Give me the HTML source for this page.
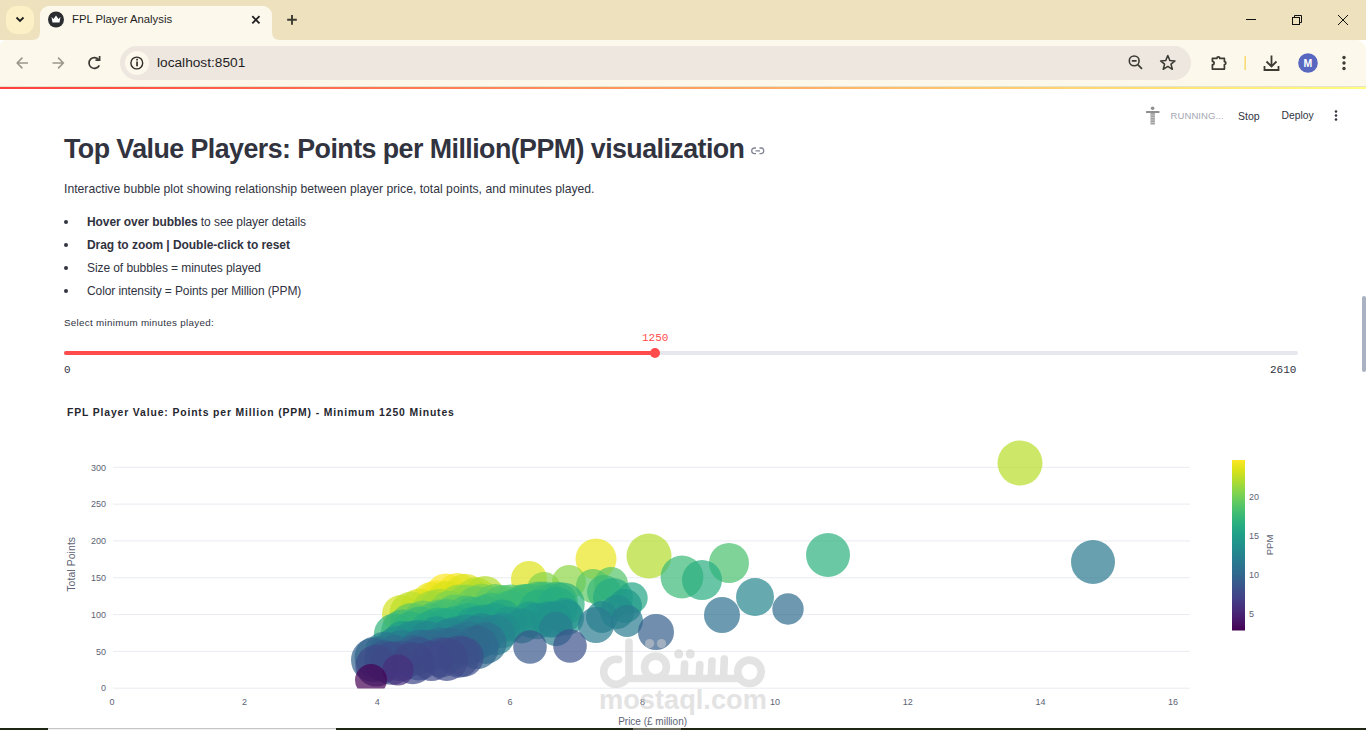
<!DOCTYPE html>
<html><head><meta charset="utf-8">
<style>
*{box-sizing:border-box;margin:0;padding:0}
html,body{width:1366px;height:730px;overflow:hidden;background:#fff;font-family:"Liberation Sans",sans-serif;}
.abs{position:absolute}
#strip{left:0;top:0;width:1366px;height:40px;background:#ede2bd}
#toolbar{left:0;top:40px;width:1366px;height:46px;background:#fdf8ec;border-top-right-radius:10px;border-top-left-radius:6px}
#tab{left:40px;top:6px;width:232px;height:40px;background:#fdf8ec;border-radius:9px 9px 0 0}
#dd{left:6px;top:6px;width:28px;height:28px;background:#fcf0c6;border-radius:11px}
#omni{left:120px;top:46px;width:1071px;height:34px;background:#ede7df;border-radius:17px}
#infobg{left:125px;top:51px;width:24px;height:24px;border-radius:12px;background:#fdf8ec}
.t{position:absolute;white-space:pre;line-height:1}
#deco{left:0;top:87px;width:1366px;height:2px;background:linear-gradient(90deg,#ff4040 0%,#fffd80 100%)}
#sep{left:0;top:86px;width:1366px;height:1px;background:#e6e3cc}
</style></head><body>
<div id="strip" class="abs"></div>
<div id="toolbar" class="abs"></div>
<div id="dd" class="abs"></div>
<div id="tab" class="abs"></div>
<!-- tab feet -->
<svg class="abs" style="left:0;top:0" width="1366" height="90">
  <path d="M32 40 Q40 40 40 32 L40 40 Z" fill="#fdf8ec"/>
  <path d="M280 40 Q272 40 272 32 L272 40 Z" fill="#fdf8ec"/>
  <!-- dropdown chevron -->
  <path d="M16.5 17.5 L20 21 L23.5 17.5" fill="none" stroke="#1f1f1f" stroke-width="1.8"/>
  <!-- favicon -->
  <circle cx="56" cy="19.5" r="8" fill="#2b2d31"/>
  <path d="M51.5 17 L53.5 19 L56 15.5 L58.5 19 L60.5 17 L59.5 22.5 L52.5 22.5 Z" fill="#fff"/>
  <!-- tab close -->
  <path d="M252.3 16.2 L259.5 23.4 M259.5 16.2 L252.3 23.4" stroke="#1f1f1f" stroke-width="1.8"/>
  <!-- new tab plus -->
  <path d="M292 15 V24.7 M287.2 19.8 H296.8" stroke="#3a3a30" stroke-width="1.9"/>
  <!-- window controls -->
  <path d="M1246 19.5 H1256" stroke="#111" stroke-width="1"/>
  <rect x="1292.5" y="17.5" width="7" height="7" fill="none" stroke="#111" stroke-width="1"/>
  <path d="M1294.5 17.5 V15.5 H1301.5 V22.5 H1299.5" fill="none" stroke="#111" stroke-width="1"/>
  <path d="M1338 15 L1348 25 M1348 15 L1338 25" stroke="#111" stroke-width="1"/>
  <!-- back / forward -->
  <path d="M28 63 H17.2 M22.4 57.6 L17.2 63 L22.4 68.4" fill="none" stroke="#9a978c" stroke-width="1.6"/>
  <path d="M52.5 63 H63.3 M58.1 57.6 L63.3 63 L58.1 68.4" fill="none" stroke="#9a978c" stroke-width="1.6"/>
  <!-- reload -->
  <path d="M98.8 59.8 A5.4 5.4 0 1 0 99.3 65.3" fill="none" stroke="#3b3a33" stroke-width="1.7"/>
  <path d="M95.5 60.2 H99.6 V56" fill="none" stroke="#3b3a33" stroke-width="1.7"/>
</svg>
<div id="omni" class="abs"></div>
<div id="infobg" class="abs"></div>
<svg class="abs" style="left:0;top:0" width="1366" height="90">
  <circle cx="136.8" cy="63" r="5.9" fill="none" stroke="#2f2e29" stroke-width="1.4"/>
  <rect x="136.2" y="61.5" width="1.7" height="4.8" fill="#2f2e29"/>
  <rect x="136.2" y="58.8" width="1.7" height="1.7" fill="#2f2e29"/>
  <!-- zoom out -->
  <circle cx="1134.2" cy="60.9" r="4.9" fill="none" stroke="#3b3a33" stroke-width="1.6"/>
  <path d="M1131.8 60.9 H1136.6 M1137.8 64.6 L1142 68.8" stroke="#3b3a33" stroke-width="1.7"/>
  <!-- star -->
  <path d="M1167.8 55.5 L1169.9 60.6 L1175 60.9 L1171 64.2 L1172.4 69.3 L1167.8 66.4 L1163.2 69.3 L1164.6 64.2 L1160.6 60.9 L1165.7 60.6 Z" fill="none" stroke="#3b3a33" stroke-width="1.5" stroke-linejoin="round"/>
  <!-- extensions puzzle -->
  <path d="M1212.4 58.4 H1216.9 A1.45 1.45 0 0 1 1219.8 58.4 H1224.4 V61.6 A1.45 1.45 0 0 1 1224.4 64.5 V69.1 H1212.4 V64.7 A1.7 1.7 0 0 0 1212.4 61.3 Z" fill="none" stroke="#3b3a33" stroke-width="1.7" stroke-linejoin="round"/>
  <rect x="1244.5" y="56" width="1.3" height="14" fill="#f5d55a"/>
  <!-- download -->
  <path d="M1271.5 55.5 V66 M1266.5 61.5 L1271.5 66.5 L1276.5 61.5 M1264.5 66 V70 H1278.5 V66" fill="none" stroke="#3b3a33" stroke-width="1.8"/>
  <circle cx="1308" cy="63" r="9.8" fill="#5867c0"/>
  <circle cx="1344" cy="57.5" r="1.7" fill="#3b3a33"/>
  <circle cx="1344" cy="63" r="1.7" fill="#3b3a33"/>
  <circle cx="1344" cy="68.5" r="1.7" fill="#3b3a33"/>
</svg>
<div class="t" style="left:72px;top:13.7px;font-size:11.3px;color:#1f1f1f">FPL Player Analysis</div>
<div class="t" style="left:157px;top:56.3px;font-size:13.7px;color:#1f1f1f">localhost:8501</div>
<div class="t" style="left:1303.6px;top:57.9px;font-size:10.5px;font-weight:bold;color:#fff">M</div>
<div id="sep" class="abs"></div>
<div id="deco" class="abs"></div>

<!-- streamlit header -->
<svg class="abs" style="left:1140px;top:104px" width="26" height="24">
  <circle cx="12.6" cy="4.2" r="1.8" fill="#8f8f8f"/>
  <path d="M6 8.3 L7 8 H18.5 L19.5 8.3" fill="none" stroke="#8f8f8f" stroke-width="1.8"/>
  <rect x="10.5" y="9" width="4.4" height="11.5" fill="#a0a0a0"/>
  <path d="M10.5 11 H15 M10.5 13.5 H15 M10.5 16 H15 M10.5 18.5 H15" stroke="#d0d0d0" stroke-width="0.8"/>
</svg>
<div class="t" style="left:1170.5px;top:110.8px;font-size:9.5px;color:#a3a8b4;letter-spacing:0.1px">RUNNING...</div>
<div class="t" style="left:1238px;top:110.5px;font-size:10.5px;color:#31333f">Stop</div>
<div class="t" style="left:1281.5px;top:110.5px;font-size:10.3px;color:#31333f">Deploy</div>
<svg class="abs" style="left:1330px;top:105px" width="12" height="20">
  <circle cx="6" cy="6.5" r="1.3" fill="#31333f"/><circle cx="6" cy="10.5" r="1.3" fill="#31333f"/><circle cx="6" cy="14.5" r="1.3" fill="#31333f"/>
</svg>
<!-- title -->
<div class="t" style="left:64px;top:136.3px;font-size:26.8px;font-weight:bold;color:#31333f;letter-spacing:-0.55px">Top Value Players: Points per Million(PPM) visualization</div>
<svg class="abs" style="left:750px;top:145px" width="16" height="12">
  <path d="M6 3 H4.5 A2.8 2.8 0 0 0 4.5 8.6 H6 M9.5 3 H11 A2.8 2.8 0 0 1 11 8.6 H9.5 M5.5 5.8 H10" fill="none" stroke="#808495" stroke-width="1.3"/>
</svg>
<div class="t" style="left:64px;top:183px;font-size:12.2px;color:#31333f">Interactive bubble plot showing relationship between player price, total points, and minutes played.</div>
<div class="abs" style="left:64px;top:220px;width:4px;height:4px;border-radius:2px;background:#31333f"></div>
<div class="abs" style="left:64px;top:243px;width:4px;height:4px;border-radius:2px;background:#31333f"></div>
<div class="abs" style="left:64px;top:266px;width:4px;height:4px;border-radius:2px;background:#31333f"></div>
<div class="abs" style="left:64px;top:289px;width:4px;height:4px;border-radius:2px;background:#31333f"></div>
<div class="t" style="left:87px;top:216px;font-size:12px;color:#31333f;letter-spacing:-0.08px"><b>Hover over bubbles </b>to see player details</div>
<div class="t" style="left:87px;top:239px;font-size:12px;color:#31333f;font-weight:bold;letter-spacing:-0.05px">Drag to zoom | Double-click to reset</div>
<div class="t" style="left:87px;top:262px;font-size:12px;color:#31333f;letter-spacing:-0.08px">Size of bubbles = minutes played</div>
<div class="t" style="left:87px;top:285px;font-size:12px;color:#31333f;letter-spacing:-0.1px">Color intensity = Points per Million (PPM)</div>
<div class="t" style="left:64px;top:318px;font-size:9.8px;color:#31333f;letter-spacing:0.3px">Select minimum minutes played:</div>
<!-- slider -->
<div class="abs" style="left:64px;top:351px;width:1234px;height:4px;border-radius:2px;background:#e6e8ee"></div>
<div class="abs" style="left:64px;top:351px;width:591px;height:4px;border-radius:2px;background:#ff4b4b"></div>
<div class="abs" style="left:650px;top:348px;width:10px;height:10px;border-radius:5px;background:#ff4b4b"></div>
<div class="t" style="left:642px;top:333px;font-size:11px;font-family:'Liberation Mono',monospace;color:#ff4b4b">1250</div>
<div class="t" style="left:64px;top:365px;font-size:11px;font-family:'Liberation Mono',monospace;color:#31333f">0</div>
<div class="t" style="left:1270px;top:365px;font-size:11px;font-family:'Liberation Mono',monospace;color:#31333f">2610</div>
<div class="t" style="left:67px;top:408px;font-size:10.4px;font-weight:bold;color:#262730;letter-spacing:0.86px">FPL Player Value: Points per Million (PPM) - Minimum 1250 Minutes</div>
<!--CHART--><svg class="abs" style="left:0;top:0" width="1366" height="730">
<defs><clipPath id="plotclip"><rect x="112" y="440" width="1078" height="248.5"/></clipPath>
<linearGradient id="cbg" x1="0" y1="0" x2="0" y2="1"><stop offset="0.0000" stop-color="#fde725"/><stop offset="0.0625" stop-color="#d8e219"/><stop offset="0.1250" stop-color="#addc30"/><stop offset="0.1875" stop-color="#84d44b"/><stop offset="0.2500" stop-color="#5ec962"/><stop offset="0.3125" stop-color="#3fbc73"/><stop offset="0.3750" stop-color="#28ae80"/><stop offset="0.4375" stop-color="#1fa088"/><stop offset="0.5000" stop-color="#21918c"/><stop offset="0.5625" stop-color="#26828e"/><stop offset="0.6250" stop-color="#2c728e"/><stop offset="0.6875" stop-color="#33638d"/><stop offset="0.7500" stop-color="#3b528b"/><stop offset="0.8125" stop-color="#424086"/><stop offset="0.8750" stop-color="#472d7b"/><stop offset="0.9375" stop-color="#48186a"/><stop offset="1.0000" stop-color="#440154"/></linearGradient></defs>
<rect x="113" y="687.70" width="1077" height="1" fill="#e8ebf1"/><rect x="113" y="650.88" width="1077" height="1" fill="#e8ebf1"/><rect x="113" y="614.07" width="1077" height="1" fill="#e8ebf1"/><rect x="113" y="577.25" width="1077" height="1" fill="#e8ebf1"/><rect x="113" y="540.43" width="1077" height="1" fill="#e8ebf1"/><rect x="113" y="503.62" width="1077" height="1" fill="#e8ebf1"/><rect x="113" y="466.80" width="1077" height="1" fill="#e8ebf1"/>
<g clip-path="url(#plotclip)" fill-opacity="0.7">
<circle cx="445.8" cy="593.6" r="20.1" fill="rgb(253,231,37)"/>
<circle cx="437.3" cy="600.0" r="20.0" fill="rgb(245,230,35)"/>
<circle cx="457.4" cy="594.7" r="21.6" fill="rgb(244,230,34)"/>
<circle cx="431.8" cy="602.7" r="20.7" fill="rgb(236,229,32)"/>
<circle cx="596" cy="559" r="20.5" fill="rgb(235,229,31)"/>
<circle cx="529" cy="579" r="18" fill="rgb(223,227,27)"/>
<circle cx="465.3" cy="595.9" r="22.2" fill="rgb(221,227,27)"/>
<circle cx="419.7" cy="608.3" r="19.9" fill="rgb(217,226,25)"/>
<circle cx="446.4" cy="601.5" r="20.4" fill="rgb(216,226,25)"/>
<circle cx="401" cy="614" r="19" fill="rgb(209,225,29)"/>
<circle cx="411.4" cy="613.5" r="21.9" fill="rgb(189,222,40)"/>
<circle cx="1020" cy="463" r="22.5" fill="rgb(184,222,42)"/>
<circle cx="476.2" cy="598.0" r="20.7" fill="rgb(183,221,42)"/>
<circle cx="484.9" cy="596.1" r="20.0" fill="rgb(181,221,43)"/>
<circle cx="649" cy="556" r="22.5" fill="rgb(179,221,45)"/>
<circle cx="431.9" cy="611.0" r="20.4" fill="rgb(166,219,53)"/>
<circle cx="439.4" cy="609.8" r="21.0" fill="rgb(161,218,56)"/>
<circle cx="459.4" cy="606.7" r="22.2" fill="rgb(147,215,65)"/>
<circle cx="569" cy="582" r="17" fill="rgb(141,214,69)"/>
<circle cx="467.0" cy="606.3" r="21.7" fill="rgb(137,213,72)"/>
<circle cx="544" cy="589" r="17" fill="rgb(134,212,74)"/>
<circle cx="449.6" cy="611.0" r="20.3" fill="rgb(131,212,75)"/>
<circle cx="481.6" cy="603.9" r="20.3" fill="rgb(130,211,76)"/>
<circle cx="476.9" cy="608.6" r="22.5" fill="rgb(105,204,91)"/>
<circle cx="423.3" cy="620.9" r="20.5" fill="rgb(100,203,94)"/>
<circle cx="495.1" cy="606.0" r="21.9" fill="rgb(96,202,97)"/>
<circle cx="593" cy="586" r="17" fill="rgb(91,200,99)"/>
<circle cx="411.5" cy="624.8" r="21.8" fill="rgb(90,199,100)"/>
<circle cx="455.2" cy="615.6" r="21.2" fill="rgb(89,199,100)"/>
<circle cx="611" cy="584" r="17" fill="rgb(84,197,104)"/>
<circle cx="438.8" cy="620.2" r="20.6" fill="rgb(82,196,104)"/>
<circle cx="511.6" cy="605.2" r="20.7" fill="rgb(82,196,105)"/>
<circle cx="503.1" cy="607.0" r="22.0" fill="rgb(81,196,105)"/>
<circle cx="521.9" cy="604.0" r="19.6" fill="rgb(77,194,107)"/>
<circle cx="528.8" cy="603.3" r="19.6" fill="rgb(73,192,109)"/>
<circle cx="729" cy="563" r="20" fill="rgb(72,192,110)"/>
<circle cx="432.4" cy="623.4" r="20.3" fill="rgb(70,191,111)"/>
<circle cx="467.2" cy="616.7" r="21.1" fill="rgb(68,190,112)"/>
<circle cx="538.6" cy="602.6" r="21.1" fill="rgb(67,190,113)"/>
<circle cx="446.7" cy="621.4" r="22.4" fill="rgb(65,189,114)"/>
<circle cx="544.6" cy="602.2" r="20.7" fill="rgb(63,188,115)"/>
<circle cx="526.6" cy="605.8" r="21.9" fill="rgb(63,188,115)"/>
<circle cx="604" cy="592" r="17" fill="rgb(58,185,118)"/>
<circle cx="403.1" cy="631.4" r="22.0" fill="rgb(58,185,118)"/>
<circle cx="682" cy="577" r="21.4" fill="rgb(58,185,118)"/>
<circle cx="491.5" cy="614.2" r="21.5" fill="rgb(57,185,118)"/>
<circle cx="517.9" cy="609.1" r="20.9" fill="rgb(57,185,118)"/>
<circle cx="419.8" cy="628.3" r="21.8" fill="rgb(57,184,118)"/>
<circle cx="509.6" cy="610.9" r="20.3" fill="rgb(57,184,119)"/>
<circle cx="472.9" cy="618.2" r="21.3" fill="rgb(56,184,119)"/>
<circle cx="484.6" cy="616.3" r="21.0" fill="rgb(54,183,120)"/>
<circle cx="546.9" cy="604.4" r="20.1" fill="rgb(54,183,120)"/>
<circle cx="556.6" cy="603.2" r="21.4" fill="rgb(52,181,121)"/>
<circle cx="394.8" cy="634.5" r="21.0" fill="rgb(50,180,123)"/>
<circle cx="410.9" cy="631.7" r="20.2" fill="rgb(48,179,123)"/>
<circle cx="562.9" cy="604.2" r="21.8" fill="rgb(44,177,126)"/>
<circle cx="828" cy="555" r="22" fill="rgb(44,176,126)"/>
<circle cx="538.6" cy="609.3" r="19.6" fill="rgb(42,175,127)"/>
<circle cx="702" cy="580" r="20" fill="rgb(40,174,128)"/>
<circle cx="437.7" cy="628.8" r="21.2" fill="rgb(39,173,129)"/>
<circle cx="455.4" cy="625.6" r="19.7" fill="rgb(39,173,129)"/>
<circle cx="468.5" cy="623.4" r="20.5" fill="rgb(39,172,129)"/>
<circle cx="557.0" cy="607.5" r="20.5" fill="rgb(39,172,129)"/>
<circle cx="429.6" cy="631.0" r="19.8" fill="rgb(38,171,130)"/>
<circle cx="613" cy="598" r="20" fill="rgb(38,171,130)"/>
<circle cx="446.0" cy="628.8" r="20.8" fill="rgb(37,169,131)"/>
<circle cx="502.0" cy="619.5" r="19.9" fill="rgb(36,167,132)"/>
<circle cx="632" cy="598" r="15.7" fill="rgb(34,165,133)"/>
<circle cx="482.7" cy="625.5" r="20.9" fill="rgb(31,161,136)"/>
<circle cx="495.0" cy="623.8" r="20.8" fill="rgb(31,160,136)"/>
<circle cx="474.4" cy="628.0" r="21.4" fill="rgb(31,158,137)"/>
<circle cx="529.4" cy="619.5" r="18.1" fill="rgb(31,156,137)"/>
<circle cx="402.8" cy="640.6" r="19.6" fill="rgb(32,155,137)"/>
<circle cx="565" cy="615" r="17" fill="rgb(32,153,138)"/>
<circle cx="509.3" cy="624.1" r="17.4" fill="rgb(32,153,138)"/>
<circle cx="625" cy="606" r="17" fill="rgb(32,152,138)"/>
<circle cx="436.9" cy="636.7" r="20.4" fill="rgb(32,150,139)"/>
<circle cx="536.7" cy="621.1" r="18.2" fill="rgb(32,150,139)"/>
<circle cx="549.3" cy="619.4" r="18.2" fill="rgb(32,149,139)"/>
<circle cx="418.9" cy="640.4" r="20.7" fill="rgb(33,147,139)"/>
<circle cx="554.4" cy="619.5" r="18.1" fill="rgb(33,147,139)"/>
<circle cx="566.5" cy="617.7" r="17.6" fill="rgb(33,147,140)"/>
<circle cx="455.8" cy="635.9" r="19.5" fill="rgb(33,144,140)"/>
<circle cx="521.7" cy="625.9" r="17.5" fill="rgb(33,144,140)"/>
<circle cx="413.0" cy="642.7" r="22.0" fill="rgb(34,143,140)"/>
<circle cx="617" cy="612" r="17" fill="rgb(34,143,140)"/>
<circle cx="396.4" cy="645.9" r="19.6" fill="rgb(34,141,141)"/>
<circle cx="502.4" cy="630.4" r="17.6" fill="rgb(35,140,141)"/>
<circle cx="465.9" cy="636.0" r="21.4" fill="rgb(35,139,141)"/>
<circle cx="602" cy="617" r="16" fill="rgb(36,137,141)"/>
<circle cx="428.2" cy="642.7" r="21.7" fill="rgb(36,136,141)"/>
<circle cx="481.6" cy="635.1" r="21.8" fill="rgb(36,136,141)"/>
<circle cx="755" cy="597" r="19" fill="rgb(37,134,142)"/>
<circle cx="449.9" cy="641.0" r="22.4" fill="rgb(37,132,142)"/>
<circle cx="495.0" cy="635.1" r="20.3" fill="rgb(38,131,142)"/>
<circle cx="476.8" cy="638.0" r="21.9" fill="rgb(38,129,142)"/>
<circle cx="385.1" cy="651.5" r="20.1" fill="rgb(39,126,142)"/>
<circle cx="556" cy="629" r="17" fill="rgb(40,125,142)"/>
<circle cx="401.5" cy="649.8" r="19.7" fill="rgb(40,124,142)"/>
<circle cx="388" cy="652" r="19" fill="rgb(41,123,142)"/>
<circle cx="596" cy="625" r="18" fill="rgb(41,122,142)"/>
<circle cx="627" cy="621" r="16" fill="rgb(41,122,142)"/>
<circle cx="1093" cy="562" r="22" fill="rgb(42,120,142)"/>
<circle cx="468.3" cy="643.2" r="21.6" fill="rgb(43,118,142)"/>
<circle cx="459.1" cy="644.9" r="20.3" fill="rgb(43,116,142)"/>
<circle cx="440.4" cy="647.7" r="20.3" fill="rgb(44,114,142)"/>
<circle cx="485.7" cy="643.0" r="20.9" fill="rgb(45,112,142)"/>
<circle cx="722" cy="615" r="18" fill="rgb(45,111,142)"/>
<circle cx="375" cy="657" r="20.5" fill="rgb(46,110,142)"/>
<circle cx="420.8" cy="651.8" r="22.2" fill="rgb(46,109,142)"/>
<circle cx="395.5" cy="654.8" r="19.8" fill="rgb(46,109,142)"/>
<circle cx="429.7" cy="650.9" r="21.2" fill="rgb(47,108,142)"/>
<circle cx="788" cy="609" r="15.7" fill="rgb(47,108,142)"/>
<circle cx="450.2" cy="649.4" r="21.7" fill="rgb(48,106,141)"/>
<circle cx="476.9" cy="647.3" r="21.8" fill="rgb(49,103,141)"/>
<circle cx="414.5" cy="655.4" r="20.3" fill="rgb(51,100,141)"/>
<circle cx="373" cy="660" r="22" fill="rgb(51,99,141)"/>
<circle cx="656" cy="632" r="18" fill="rgb(53,94,140)"/>
<circle cx="530" cy="647" r="16.8" fill="rgb(56,89,140)"/>
<circle cx="385.0" cy="661.3" r="20.9" fill="rgb(56,89,140)"/>
<circle cx="418.5" cy="658.8" r="21.7" fill="rgb(57,86,139)"/>
<circle cx="400.6" cy="661.0" r="20.3" fill="rgb(58,84,139)"/>
<circle cx="441.4" cy="657.2" r="20.2" fill="rgb(58,84,139)"/>
<circle cx="570" cy="646" r="16.8" fill="rgb(59,81,139)"/>
<circle cx="458.8" cy="656.6" r="21.1" fill="rgb(60,80,138)"/>
<circle cx="463.6" cy="656.8" r="20.1" fill="rgb(61,78,138)"/>
<circle cx="392.0" cy="663.2" r="21.6" fill="rgb(61,78,138)"/>
<circle cx="446.7" cy="659.4" r="21.6" fill="rgb(62,74,137)"/>
<circle cx="431.5" cy="660.9" r="20.1" fill="rgb(62,73,137)"/>
<circle cx="376.3" cy="665.7" r="20.9" fill="rgb(63,73,136)"/>
<circle cx="412.8" cy="663.2" r="21.0" fill="rgb(63,71,136)"/>
<circle cx="398" cy="670" r="15.6" fill="rgb(71,46,124)"/>
<circle cx="371" cy="680" r="16" fill="rgb(68,1,84)"/>
</g>
<g font-family="Liberation Sans" font-size="9px" fill="#5d6274">
<text x="106" y="691.4" text-anchor="end">0</text><text x="106" y="654.6" text-anchor="end">50</text><text x="106" y="617.8" text-anchor="end">100</text><text x="106" y="581.0" text-anchor="end">150</text><text x="106" y="544.1" text-anchor="end">200</text><text x="106" y="507.3" text-anchor="end">250</text><text x="106" y="470.5" text-anchor="end">300</text>
<text x="112.0" y="704.7" text-anchor="middle">0</text><text x="244.6" y="704.7" text-anchor="middle">2</text><text x="377.2" y="704.7" text-anchor="middle">4</text><text x="509.9" y="704.7" text-anchor="middle">6</text><text x="642.5" y="704.7" text-anchor="middle">8</text><text x="775.1" y="704.7" text-anchor="middle">10</text><text x="907.8" y="704.7" text-anchor="middle">12</text><text x="1040.4" y="704.7" text-anchor="middle">14</text><text x="1173.0" y="704.7" text-anchor="middle">16</text>
<text x="1249" y="617.2">5</text><text x="1249" y="578.1">10</text><text x="1249" y="539.0">15</text><text x="1249" y="499.9">20</text>
<text transform="translate(75.4,564.3) rotate(-90)" text-anchor="middle" font-size="10.4px" letter-spacing="0.1px">Total Points</text>
<text x="652.6" y="725.3" text-anchor="middle" font-size="10px">Price (£ million)</text>
<text transform="translate(1272.5,545) rotate(-90)" text-anchor="middle" font-size="9.5px">PPM</text>
</g>
<g opacity="0.55" fill="none" stroke="#cdcdcd" stroke-width="7.6" stroke-linecap="round">
<path d="M629 642 V678.5 H740"/>
<path d="M618.5 659.5 A12.5 12.5 0 1 0 625.8 679.8"/>
<circle cx="655.5" cy="667" r="10.9"/>
<path d="M684.6 664 L684 678 M699.8 664.5 L699.2 678 M712 661 L711.2 678 M724.3 659 L723.5 678"/>
<circle cx="749.5" cy="671.8" r="11.7"/>
<circle cx="678.7" cy="653.9" r="4.6" fill="#cdcdcd" stroke="none"/>
<circle cx="649.6" cy="643.6" r="4.6" fill="#cdcdcd" stroke="none"/>
<circle cx="661.5" cy="643.6" r="4.6" fill="#cdcdcd" stroke="none"/>
<circle cx="690.2" cy="653.9" r="4.6" fill="#cdcdcd" stroke="none"/>
<text x="0" y="0" transform="translate(599,709.4) scale(0.955,1)" font-family="Liberation Sans" font-weight="bold" font-size="28.5px" fill="#cdcdcd" stroke="none">mostaql.com</text>
</g>
<rect x="1232" y="460" width="13" height="170.5" fill="url(#cbg)"/>
</svg><!--/CHART-->
<!-- scrollbar -->
<div class="abs" style="left:1362px;top:296px;width:4px;height:76px;border-radius:2px;background:#a9b1c2"></div>
<div class="abs" style="left:0;top:728px;width:1366px;height:2px;background:#1f2616"></div>
<div class="abs" style="left:48px;top:728px;width:288px;height:1px;background:#c4c4c4"></div>
<div class="abs" style="left:48px;top:729px;width:288px;height:1px;background:#f2f2f2"></div>
<div class="abs" style="left:633px;top:728px;width:48px;height:2px;background:#6b6b5c"></div>
</body></html>
